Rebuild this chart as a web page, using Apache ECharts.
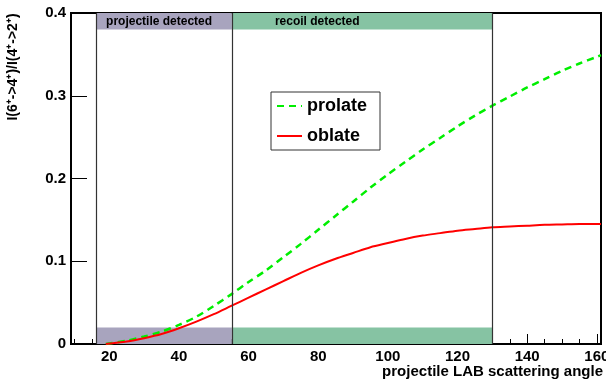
<!DOCTYPE html>
<html>
<head>
<meta charset="utf-8">
<script src="https://cdn.jsdelivr.net/npm/echarts@6/dist/echarts.min.js"></script>
<style>html,body{margin:0;padding:0;background:#fff}#c{width:606px;height:383px}</style>
</head>
<body>
<div id="c"></div>
<script>
// ---- data ----
var angles  = [19, 25, 30, 35, 40, 45, 50, 55, 60, 65, 70, 75, 80, 85, 90, 95, 100, 105, 110, 115, 120, 125, 130, 135, 140, 145, 150, 155, 160, 161.2];
var prolate = [0, 0.004, 0.009, 0.015, 0.023, 0.033, 0.046, 0.060, 0.075, 0.089, 0.105, 0.121, 0.138, 0.155, 0.172, 0.189, 0.205, 0.220, 0.235, 0.249, 0.263, 0.276, 0.288, 0.299, 0.310, 0.320, 0.330, 0.339, 0.347, 0.349];
var oblate  = [0, 0.003, 0.007, 0.012, 0.019, 0.027, 0.036, 0.046, 0.056, 0.066, 0.076, 0.086, 0.095, 0.103, 0.110, 0.117, 0.122, 0.127, 0.131, 0.134, 0.137, 0.139, 0.141, 0.142, 0.143, 0.144, 0.1445, 0.145, 0.145, 0.145];
var seriesNames = ['prolate', 'oblate'];
var xTickLabels = [20, 40, 60, 80, 100, 120, 140, 160];
var xMinorTicks = [10, 15, 20, 25, 30, 35, 40, 45, 50, 55, 60, 65, 70, 75, 80, 85, 90, 95, 100, 105, 110, 115, 120, 125, 130, 135, 140, 145, 150, 155, 160];
var yTickLabels = [0, 0.1, 0.2, 0.3, 0.4];
var regionNames = ['projectile detected', 'recoil detected'];
var regionX = [[16.2, 55.2], [55.2, 130.1]];
var bandHeight = 0.02;
var dividerX = [16.2, 55.2, 130.1];
var xTitle = 'projectile LAB scattering angle';
var yTitle = 'I(6\u207A->4\u207A)/I(4\u207A->2\u207A)';

var FONT = '"Liberation Sans", Arial, Helvetica, sans-serif';
var regionColors = ['#a8a4be', '#86c3a3'];
var labelOffsets = [10, 43];

function pairs(xs, ys) { return xs.map(function (x, i) { return [x, ys[i]]; }); }

var areas = [];
regionX.forEach(function (r, i) {
  var lab = { show: true, position: 'insideLeft', distance: labelOffsets[i], color: '#000', fontWeight: 'bold', fontSize: 12, fontFamily: FONT };
  areas.push([{ xAxis: r[0], yAxis: 0.4 - bandHeight, name: regionNames[i], itemStyle: { color: regionColors[i], opacity: 1 }, label: lab },
              { xAxis: r[1], yAxis: 0.4 }]);
  areas.push([{ xAxis: r[0], yAxis: 0, itemStyle: { color: regionColors[i], opacity: 1 }, label: { show: false } },
              { xAxis: r[1], yAxis: bandHeight }]);
});

var chart = echarts.init(document.getElementById('c'), null, { renderer: 'canvas' });
chart.setOption({
  animation: false,
  backgroundColor: '#fff',
  grid: { left: 71, right: 5, top: 13, bottom: 39, show: true, borderColor: '#000', borderWidth: 2, backgroundColor: 'transparent', containLabel: false, outerBoundsMode: 'none' },
  xAxis: [{
    type: 'value', min: 9, max: 161.2,
    axisLine: { show: false },
    axisTick: { show: true, inside: true, length: 10, customValues: xTickLabels, lineStyle: { color: '#000', width: 1 } },
    axisLabel: { customValues: xTickLabels, color: '#000', fontWeight: 'bold', fontSize: 15, fontFamily: FONT, margin: 5, hideOverlap: false },
    splitLine: { show: false }
  }, {
    type: 'value', min: 9, max: 161.2, position: 'bottom',
    axisLine: { show: false },
    axisTick: { show: true, inside: true, length: 5, customValues: xMinorTicks, lineStyle: { color: '#000', width: 1 } },
    axisLabel: { show: false },
    splitLine: { show: false }
  }],
  yAxis: {
    type: 'value', min: 0, max: 0.4, interval: 0.1,
    axisLine: { show: false },
    axisTick: { show: true, inside: true, length: 16, lineStyle: { color: '#000', width: 1 } },
    axisLabel: { color: '#000', fontWeight: 'bold', fontSize: 15, fontFamily: FONT, margin: 5,
      formatter: function (v) { return String(Math.round(v * 10) / 10); } },
    splitLine: { show: false }
  },
  legend: {
    orient: 'vertical', left: 271, top: 92,
    data: seriesNames,
    backgroundColor: '#fff', borderColor: '#333', borderWidth: 1, borderRadius: 0,
    padding: [5, 13, 5, 5], itemGap: 12, itemWidth: 25, itemHeight: 14,
    itemStyle: { color: 'rgba(0,0,0,0)', borderWidth: 0 },
    textStyle: { color: '#000', fontWeight: 'bold', fontSize: 18, fontFamily: FONT }
  },
  graphic: [
    { type: 'text', x: 603, y: 372, style: { text: xTitle, fill: '#000', font: 'bold 15px ' + FONT, textAlign: 'right', textVerticalAlign: 'middle' } },
    { type: 'text', x: 13, y: 67, rotation: Math.PI / 2, style: { text: yTitle, fill: '#000', font: 'bold 14px ' + FONT, textAlign: 'center', textVerticalAlign: 'middle' } }
  ],
  series: [{
    name: 'regions', type: 'line', data: [], silent: true, z: 1,
    markArea: { silent: true, data: areas },
    markLine: { silent: true, symbol: ['none', 'none'], label: { show: false },
      lineStyle: { color: '#333', width: 1.2, type: 'solid' },
      data: dividerX.map(function (x) { return { xAxis: x }; }) }
  }, {
    name: seriesNames[0], type: 'line', data: pairs(angles, prolate), smooth: 0.3,
    symbol: 'none', z: 3,
    lineStyle: { color: '#00ee00', width: 2.5, type: [7, 5] }, itemStyle: { color: '#00ee00' }
  }, {
    name: seriesNames[1], type: 'line', data: pairs(angles, oblate), smooth: 0.3,
    symbol: 'none', z: 4,
    lineStyle: { color: '#ff0000', width: 2, type: 'solid' }, itemStyle: { color: '#ff0000' }
  }]
});
</script>
</body>
</html>
